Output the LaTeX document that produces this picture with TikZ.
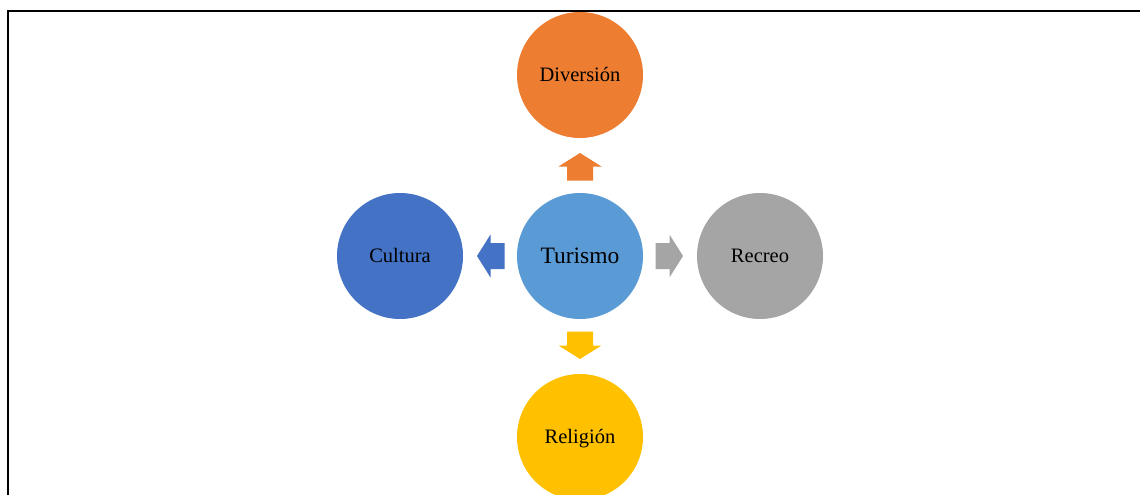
\documentclass[tikz,border=0pt]{standalone}
\usepackage{fontspec}
\setmainfont{Liberation Serif}
\usetikzlibrary{calc}
\definecolor{cOrange}{HTML}{ED7D31}
\definecolor{cBlue}{HTML}{5B9BD5}
\definecolor{cDark}{HTML}{4472C4}
\definecolor{cGray}{HTML}{A5A5A5}
\definecolor{cYellow}{HTML}{FFC000}
\tikzset{
  bubble/.style={circle, inner sep=0pt, minimum size=126pt, text=black, text height=13.5pt, text depth=0pt, font=\fontsize{20.5}{24}\selectfont},
  blockarrow/.pic={\fill (0,-13) -- (14,-13) -- (14,-21.5) -- (27.5,0) -- (14,21.5) -- (14,13) -- (0,13) -- cycle;}
}
\begin{document}
\begin{tikzpicture}[x=1pt,y=-1pt]
\useasboundingbox (0,0) rectangle (1140,495);
\clip (0,0) rectangle (1140,495);
\draw[line width=2.2pt] (8,520) -- (8,11) -- (1160,11);
\node[bubble, fill=cBlue, text height=15.5pt, font=\fontsize{23.5}{28}\selectfont] (tur) at (580,256) {Turismo};
\node[bubble, fill=cOrange] (div) at (580,75) {Diversión};
\node[bubble, fill=cYellow] (rel) at (580,437) {Religión};
\node[bubble, fill=cDark] (cul) at (400,256) {Cultura};
\node[bubble, fill=cGray] (rec) at (760,256) {Recreo};
\path[fill=cOrange] ($(tur)+(0,-75.5)$) pic[rotate=90] {blockarrow};
\path[fill=cYellow] ($(tur)+(0,75.5)$) pic[rotate=-90] {blockarrow};
\path[fill=cDark] ($(tur)+(-75.5,0)$) pic[rotate=180] {blockarrow};
\path[fill=cGray] ($(tur)+(75.5,0)$) pic {blockarrow};
\end{tikzpicture}
\end{document}
